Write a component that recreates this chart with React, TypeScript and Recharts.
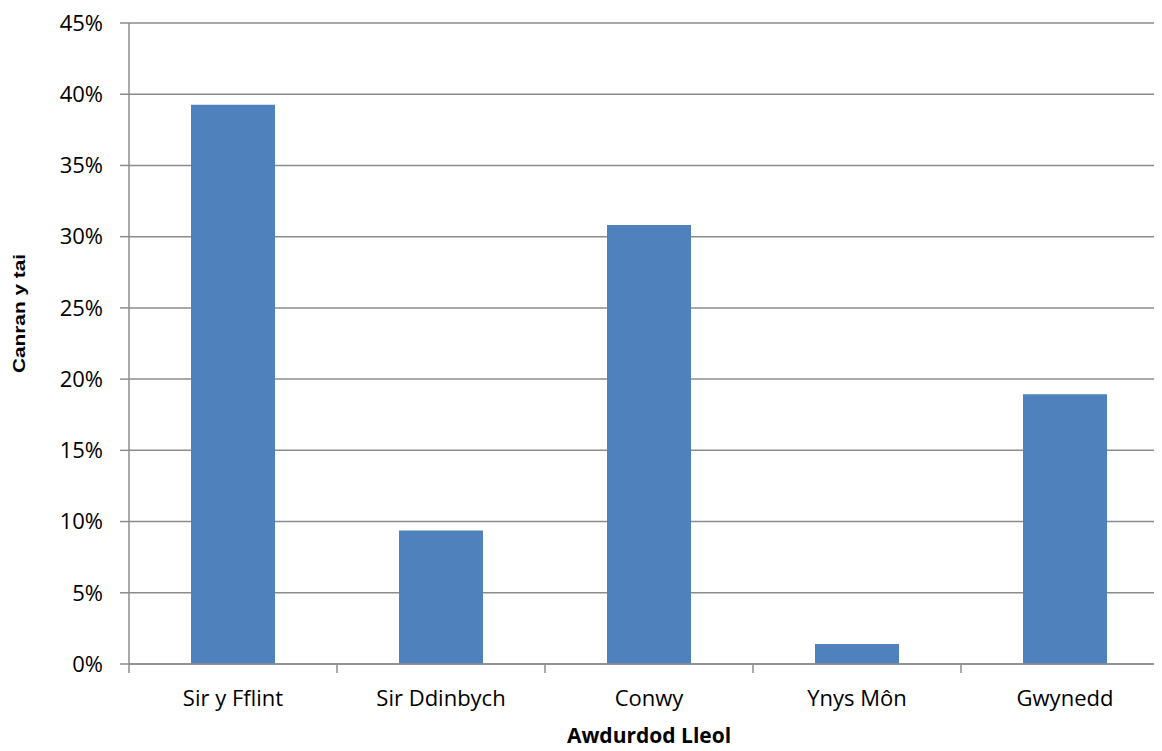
import { Bar, BarChart, CartesianGrid, XAxis, YAxis, Label } from 'recharts'

const categories = ['Sir y Fflint', 'Sir Ddinbych', 'Conwy', 'Ynys Môn', 'Gwynedd']
const shares = [39.26, 9.37, 30.82, 1.41, 18.94]
const yTicks = [0, 5, 10, 15, 20, 25, 30, 35, 40, 45]
const boundaryTicks = [0, 1, 2, 3, 4, 5]

const data = categories.map((name, i) => ({ name, value: shares[i], pos: i + 0.5 }))

const tickFont = { fill: '#000', fontSize: 22, fontFamily: '"Open Sans", sans-serif' }
const grey = '#8c8c8c'

export default function App() {
  return (
    <div style={{ width: 1154, height: 743, overflow: 'hidden' }}>
      <BarChart
        width={1170}
        height={743}
        data={data}
        margin={{ top: 15, right: 9, left: 0, bottom: 56 }}
        barSize={84}
      >
        <CartesianGrid vertical={false} stroke={grey} strokeWidth={1.5} />
        {/* tick marks between categories, like the source */}
        <XAxis
          xAxisId="bounds"
          type="number"
          dataKey="pos"
          domain={[0, 5]}
          ticks={boundaryTicks}
          tick={() => <g />}
          tickSize={9}
          tickLine={{ stroke: grey, strokeWidth: 1.5 }}
          axisLine={{ stroke: grey, strokeWidth: 1.5 }}
          height={1}
        />
        <XAxis
          dataKey="name"
          xAxisId="cat"
          tick={tickFont}
          tickLine={false}
          axisLine={false}
          tickMargin={19}
          height={30}
          interval={0}
        >
          <Label
            value="Awdurdod Lleol"
            position="bottom"
            offset={33}
            style={{ fill: '#000', fontSize: 21, fontWeight: 700, fontFamily: '"Open Sans", sans-serif' }}
          />
        </XAxis>
        <YAxis
          domain={[0, 45]}
          ticks={yTicks}
          tickFormatter={(v) => `${v}%`}
          tick={tickFont}
          tickSize={9}
          tickMargin={17}
          width={121}
          tickLine={{ stroke: grey, strokeWidth: 1.5 }}
          axisLine={{ stroke: grey, strokeWidth: 1.5 }}
        >
          <Label
            content={({ viewBox }: any) => {
              const cy = viewBox.y + viewBox.height / 2 - 30
              return (
                <text
                  x={0}
                  y={0}
                  transform={`translate(11, ${cy}) rotate(-90) scale(1.3, 1)`}
                  textAnchor="middle"
                  dominantBaseline="central"
                  style={{ fill: '#000', fontSize: 16, fontWeight: 700, fontFamily: '"Liberation Sans", Arial, sans-serif' }}
                >
                  Canran y tai
                </text>
              )
            }}
          />
        </YAxis>
        <Bar dataKey="value" xAxisId="cat" fill="#4f81bd" isAnimationActive={false} />
      </BarChart>
    </div>
  )
}
